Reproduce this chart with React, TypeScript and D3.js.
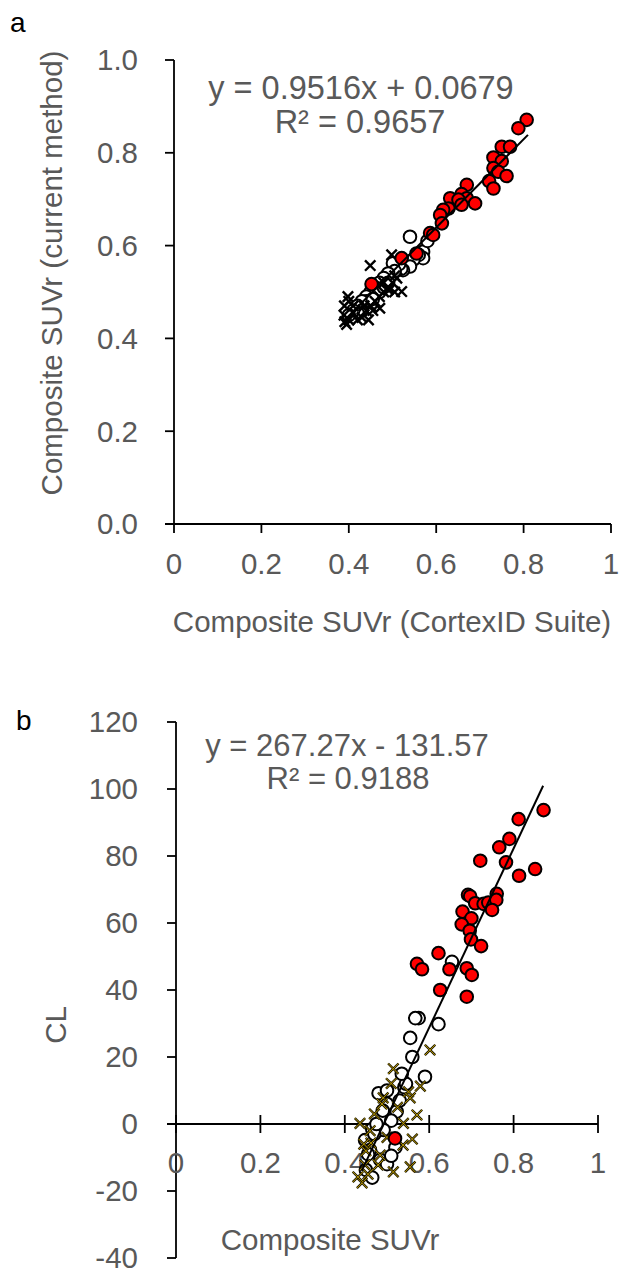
import React from "react";
import * as d3 from "d3";

// ---- Panel a data: [CortexID SUVr, current-method SUVr]
const aRed: [number, number][] = [
  [0.807, 0.871], [0.788, 0.853], [0.750, 0.813], [0.769, 0.813], [0.731, 0.790],
  [0.750, 0.782], [0.731, 0.767], [0.742, 0.759], [0.761, 0.750], [0.721, 0.739],
  [0.731, 0.723], [0.670, 0.731], [0.658, 0.711], [0.632, 0.702], [0.670, 0.702],
  [0.651, 0.699], [0.689, 0.691], [0.658, 0.688], [0.628, 0.680], [0.616, 0.677],
  [0.609, 0.666], [0.613, 0.648], [0.586, 0.627], [0.593, 0.623], [0.555, 0.583],
  [0.521, 0.573], [0.452, 0.517],
];
const aOpen: [number, number][] = [
  [0.540, 0.619], [0.570, 0.587], [0.570, 0.573], [0.560, 0.580], [0.548, 0.570],
  [0.540, 0.555], [0.524, 0.547], [0.520, 0.550], [0.515, 0.560], [0.501, 0.562],
  [0.505, 0.545], [0.490, 0.540], [0.480, 0.530], [0.470, 0.520], [0.460, 0.510],
  [0.465, 0.500], [0.450, 0.500], [0.440, 0.490], [0.440, 0.480], [0.430, 0.480],
  [0.420, 0.470], [0.430, 0.460], [0.420, 0.455], [0.410, 0.460], [0.400, 0.450],
  [0.470, 0.500], [0.455, 0.485], [0.480, 0.510], [0.490, 0.520], [0.580, 0.610],
];
const aCross: [number, number][] = [
  [0.498, 0.580], [0.449, 0.557], [0.521, 0.501], [0.471, 0.465], [0.391, 0.436],
  [0.389, 0.450], [0.398, 0.490], [0.390, 0.470], [0.400, 0.480], [0.410, 0.470],
  [0.420, 0.440], [0.430, 0.445], [0.440, 0.460], [0.450, 0.470], [0.460, 0.480],
  [0.470, 0.490], [0.480, 0.500], [0.490, 0.510], [0.500, 0.520], [0.510, 0.530],
  [0.505, 0.500], [0.400, 0.440], [0.410, 0.455], [0.435, 0.470], [0.445, 0.440],
  [0.455, 0.460], [0.395, 0.430], [0.490, 0.505], [0.480, 0.520], [0.505, 0.535],
];
const aFit = { slope: 0.9516, intercept: 0.0679, from: 0.39, to: 0.81 };
const aTicksX = [0, 0.2, 0.4, 0.6, 0.8, 1];
const aTickLabelsX = ["0", "0.2", "0.4", "0.6", "0.8", "1"];
const aTicksY = [0, 0.2, 0.4, 0.6, 0.8, 1.0];
const aTickLabelsY = ["0.0", "0.2", "0.4", "0.6", "0.8", "1.0"];

// ---- Panel b data: [Composite SUVr, CL]
const bRed: [number, number][] = [
  [0.871, 93.7], [0.812, 91.0], [0.790, 85.1], [0.766, 82.6], [0.721, 78.6],
  [0.782, 78.1], [0.851, 76.1], [0.813, 74.1], [0.692, 68.4], [0.697, 68.0],
  [0.760, 68.7], [0.709, 65.9], [0.729, 65.7], [0.740, 66.1], [0.759, 66.9],
  [0.749, 63.9], [0.679, 63.4], [0.700, 61.4], [0.677, 59.6], [0.696, 57.7],
  [0.699, 55.1], [0.723, 53.1], [0.622, 51.0], [0.571, 47.8], [0.583, 46.2],
  [0.648, 46.2], [0.689, 46.5], [0.701, 44.5], [0.626, 40.0], [0.689, 38.0],
  [0.519, -4.3],
];
const bOpen: [number, number][] = [
  [0.654, 48.4], [0.575, 31.6], [0.567, 31.6], [0.622, 29.8], [0.555, 25.7],
  [0.560, 20.0], [0.590, 14.1], [0.541, 11.0], [0.480, 9.2], [0.500, 6.0],
  [0.523, 3.7], [0.510, 1.0], [0.492, -1.8], [0.465, -1.5], [0.448, -4.8],
  [0.460, -7.8], [0.484, -10.7], [0.450, -13.7], [0.470, -3.0], [0.530, 7.0],
  [0.545, 12.0], [0.520, -7.0], [0.500, -12.0], [0.475, 0.0], [0.490, 4.0],
  [0.455, -9.0], [0.535, 15.0], [0.500, 10.0], [0.465, -16.0], [0.510, -9.5],
];
const bCross: [number, number][] = [
  [0.602, 22.1], [0.579, 11.3], [0.515, 16.5], [0.510, 12.1], [0.551, 9.6],
  [0.555, 7.8], [0.571, 2.7], [0.539, 0.2], [0.491, 7.8], [0.488, 6.0],
  [0.436, 0.2], [0.441, -17.6], [0.431, -15.8], [0.448, -12.2], [0.479, -12.2],
  [0.515, -14.3], [0.555, -12.8], [0.484, -9.3], [0.462, -5.7], [0.538, -6.3],
  [0.460, -2.0], [0.470, 3.0], [0.500, -4.0], [0.450, -8.0], [0.525, 5.0],
  [0.560, -4.5], [0.445, -6.0], [0.455, -15.0],
];
const bFit = { slope: 267.27, intercept: -131.57, from: 0.44, to: 0.87 };
const bTicksX = [0, 0.2, 0.4, 0.6, 0.8, 1];
const bTickLabelsX = ["0", "0.2", "0.4", "0.6", "0.8", "1"];
const bTicksY = [-40, -20, 0, 20, 40, 60, 80, 100, 120];
const bTickLabelsY = ["-40", "-20", "0", "20", "40", "60", "80", "100", "120"];

const FONT = "'Liberation Sans', Arial, sans-serif";
const GRAY = "#595959";
const FS = 29.5;

function Cross({ x, y, color, inner }: { x: number; y: number; color: string; inner?: string }) {
  const s = 5.2;
  const d = `M${x - s},${y - s}L${x + s},${y + s}M${x - s},${y + s}L${x + s},${y - s}`;
  return (
    <g>
      <path d={d} stroke={color} strokeWidth={2.4} fill="none" />
      {inner && <path d={d} stroke={inner} strokeWidth={0.8} fill="none" />}
    </g>
  );
}

export default function App() {
  const xA = d3.scaleLinear().domain([0, 1]).range([174, 611]);
  const yA = d3.scaleLinear().domain([0, 1]).range([524, 60]);
  const xB = d3.scaleLinear().domain([0, 1]).range([176, 598]);
  const yB = d3.scaleLinear().domain([-40, 120]).range([1258, 722]);

  const lineA = d3.line<number>().x((v) => xA(v)).y((v) => yA(aFit.slope * v + aFit.intercept));
  const lineB = d3.line<number>().x((v) => xB(v)).y((v) => yB(bFit.slope * v + bFit.intercept));

  const r = 6.3;

  return (
    <svg width={628} height={1272} style={{ position: "absolute", left: 0, top: 0, background: "#fff" }} fontFamily={FONT}>
      <rect width={628} height={1272} fill="#fff" />
      {/* ---------- Panel a ---------- */}
      <text x={10} y={32} fontSize={28} fill="#000">a</text>
      <line x1={xA(0)} x2={xA(0)} y1={yA(1)} y2={yA(0)} stroke="#000" strokeWidth={1.8} />
      <line x1={xA(0) - 9} x2={xA(1)} y1={yA(0)} y2={yA(0)} stroke="#000" strokeWidth={1.8} />
      {aTicksY.map((t, i) => (
        <g key={"ay" + i}>
          <line x1={xA(0) - 9} x2={xA(0)} y1={yA(t)} y2={yA(t)} stroke="#000" strokeWidth={1.8} />
          <text x={138} y={yA(t)} dy="0.35em" textAnchor="end" fontSize={FS} fill={GRAY}>{aTickLabelsY[i]}</text>
        </g>
      ))}
      {aTicksX.map((t, i) => (
        <g key={"ax" + i}>
          <line x1={xA(t)} x2={xA(t)} y1={yA(0)} y2={yA(0) + 9} stroke="#000" strokeWidth={1.8} />
          <text x={xA(t)} y={574} textAnchor="middle" fontSize={FS} fill={GRAY}>{aTickLabelsX[i]}</text>
        </g>
      ))}
      <text x={392} y={632} textAnchor="middle" fontSize={FS} fill={GRAY}>Composite SUVr (CortexID Suite)</text>
      <text transform={`translate(62,273) rotate(-90)`} textAnchor="middle" fontSize={FS} fill={GRAY}>Composite SUVr (current method)</text>
      {aOpen.map((p, i) => (
        <circle key={"ao" + i} cx={xA(p[0])} cy={yA(p[1])} r={r} fill="#fff" stroke="#000" strokeWidth={2} />
      ))}
      {aCross.map((p, i) => (
        <Cross key={"ac" + i} x={xA(p[0])} y={yA(p[1])} color="#000" />
      ))}
      {aRed.map((p, i) => (
        <circle key={"ar" + i} cx={xA(p[0])} cy={yA(p[1])} r={r} fill="#ff0000" stroke="#000" strokeWidth={2} />
      ))}
      <path d={lineA([aFit.from, aFit.to]) || ""} stroke="#000" strokeWidth={2} fill="none" />
      <text x={361} y={99} textAnchor="middle" fontSize={32.5} fill={GRAY}>y = 0.9516x + 0.0679</text>
      <text x={360} y={133} textAnchor="middle" fontSize={32.5} fill={GRAY}>R² = 0.9657</text>

      {/* ---------- Panel b ---------- */}
      <text x={16} y={730} fontSize={28} fill="#000">b</text>
      <line x1={xB(0)} x2={xB(0)} y1={yB(120)} y2={yB(-40)} stroke="#000" strokeWidth={1.8} />
      <line x1={xB(0) - 9} x2={xB(1)} y1={yB(0)} y2={yB(0)} stroke="#000" strokeWidth={1.8} />
      {bTicksY.map((t, i) => (
        <g key={"by" + i}>
          <line x1={xB(0) - 9} x2={xB(0)} y1={yB(t)} y2={yB(t)} stroke="#000" strokeWidth={1.8} />
          <text x={138} y={yB(t)} dy="0.33em" textAnchor="end" fontSize={FS} fill={GRAY}>{bTickLabelsY[i]}</text>
        </g>
      ))}
      {bTicksX.map((t, i) => (
        <g key={"bx" + i}>
          <line x1={xB(t)} x2={xB(t)} y1={yB(0) - 9} y2={yB(0) + 9} stroke="#000" strokeWidth={1.8} />
          <text x={xB(t)} y={1173} textAnchor="middle" fontSize={FS} fill={GRAY}>{bTickLabelsX[i]}</text>
        </g>
      ))}
      <text x={330} y={1250} textAnchor="middle" fontSize={FS} fill={GRAY}>Composite SUVr</text>
      <text transform={`translate(66,1025) rotate(-90)`} textAnchor="middle" fontSize={FS} fill={GRAY}>CL</text>
      {bOpen.map((p, i) => (
        <circle key={"bo" + i} cx={xB(p[0])} cy={yB(p[1])} r={r} fill="#fff" stroke="#000" strokeWidth={2} />
      ))}
      {bCross.map((p, i) => (
        <Cross key={"bc" + i} x={xB(p[0])} y={yB(p[1])} color="#1f1a00" inner="#d8b000" />
      ))}
      {bRed.map((p, i) => (
        <circle key={"br" + i} cx={xB(p[0])} cy={yB(p[1])} r={r} fill="#ff0000" stroke="#000" strokeWidth={2} />
      ))}
      <path d={lineB([bFit.from, bFit.to]) || ""} stroke="#000" strokeWidth={2} fill="none" />
      <text x={347} y={756} textAnchor="middle" fontSize={31} fill={GRAY}>y = 267.27x - 131.57</text>
      <text x={348} y={789} textAnchor="middle" fontSize={31} fill={GRAY}>R² = 0.9188</text>
    </svg>
  );
}
